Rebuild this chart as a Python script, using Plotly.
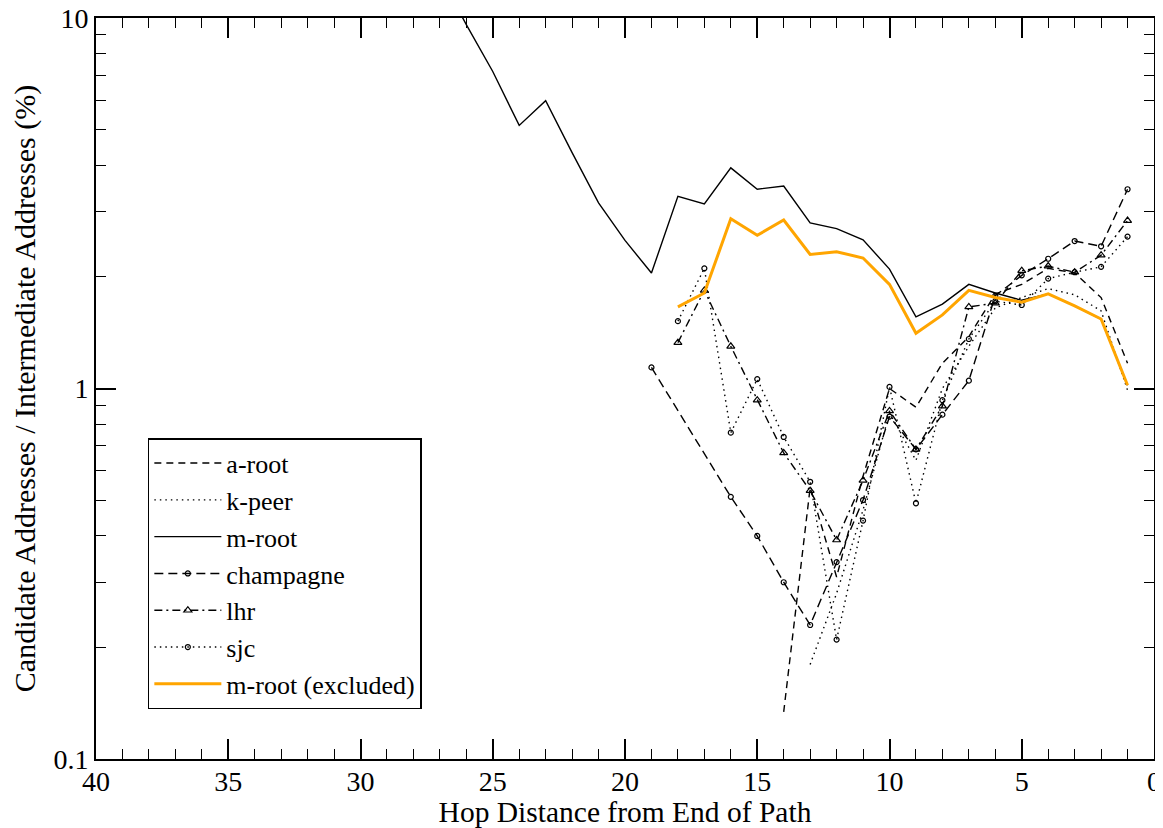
import plotly.graph_objects as go

# ---- data ----
mroot_x = [27, 26, 25, 24, 23, 22, 21, 20, 19, 18, 17, 16, 15, 14, 13, 12, 11, 10, 9, 8, 7, 6, 5, 4, 3, 2, 1]
mroot_y = [13.0, 9.6, 7.17, 5.13, 5.98, 4.33, 3.17, 2.51, 2.05, 3.30, 3.15, 3.94, 3.45, 3.52, 2.80, 2.70, 2.52,
           2.10, 1.56, 1.69, 1.91, 1.81, 1.73, 1.80, 1.67, 1.54, 1.02]

mrootx_x = [18, 17, 16, 15, 14, 13, 12, 11, 10, 9, 8, 7, 6, 5, 4, 3, 2, 1]
mrootx_y = [1.66, 1.81, 2.87, 2.59, 2.85, 2.30, 2.34, 2.25, 1.91, 1.41, 1.58, 1.84, 1.76, 1.71, 1.80, 1.67, 1.54, 1.02]

aroot_x = [14, 13, 12, 11, 10, 9, 8, 7, 6, 5, 4, 3, 2, 1]
aroot_y = [0.134, 0.54, 0.31, 0.58, 1.0, 0.89, 1.17, 1.38, 1.80, 1.91, 2.11, 2.05, 1.76, 1.17]

kpeer_x = [13, 12, 11, 10, 9, 8, 7, 6, 5, 4, 3, 2, 1]
kpeer_y = [0.18, 0.28, 0.47, 0.86, 0.64, 1.0, 1.30, 1.65, 1.76, 1.86, 1.79, 1.62, 0.99]

champ_x = [19, 16, 15, 14, 13, 12, 11, 10, 9, 8, 7, 6, 5, 4, 3, 2, 1]
champ_y = [1.14, 0.51, 0.40, 0.30, 0.23, 0.34, 0.50, 0.84, 0.685, 0.85, 1.05, 1.78, 2.02, 2.24, 2.50, 2.42, 3.45]

lhr_x = [18, 17, 16, 15, 14, 13, 12, 11, 10, 9, 8, 7, 6, 5, 4, 3, 2, 1]
lhr_y = [1.33, 1.84, 1.30, 0.93, 0.67, 0.53, 0.39, 0.565, 0.87, 0.685, 0.896, 1.66, 1.70, 2.08, 2.14, 2.06, 2.29, 2.84]

sjc_x = [18, 17, 16, 15, 14, 13, 12, 11, 10, 9, 8, 7, 6, 5, 4, 3, 2, 1]
sjc_y = [1.52, 2.11, 0.76, 1.06, 0.74, 0.56, 0.21, 0.44, 1.01, 0.49, 0.93, 1.36, 1.72, 1.68, 1.98, 2.06, 2.13, 2.57]

x_ticks = [40, 35, 30, 25, 20, 15, 10, 5, 0]
y_ticks = [0.1, 1, 10]
y_tick_text = ["0.1", "1", "10"]

FONT = "Liberation Serif"
BLACK = "black"
ORANGE = "#FFA500"

fig = go.Figure()

def add(name, xs, ys, dash, width=1.4, color=BLACK, symbol=None, msize=5):
    kw = {}
    if symbol:
        mode = "lines+markers"
        kw["marker"] = dict(symbol=symbol, size=msize, color=color,
                            line=dict(width=1.2, color=color))
    else:
        mode = "lines"
    fig.add_trace(go.Scatter(x=xs, y=ys, mode=mode, name=name,
                             line=dict(color=color, width=width, dash=dash), **kw))

add("a-root", aroot_x, aroot_y, "7px,5px")
add("k-peer", kpeer_x, kpeer_y, "1.5px,4px")
add("m-root", mroot_x, mroot_y, "solid")
add("champagne", champ_x, champ_y, "9px,5px", symbol="circle-open", msize=5)
add("lhr", lhr_x, lhr_y, "8px,4px,2px,4px", symbol="triangle-up-open", msize=7)
add("sjc", sjc_x, sjc_y, "1.5px,4px", symbol="circle-open", msize=5)
add("m-root (excluded)", mrootx_x, mrootx_y, "solid", width=3, color=ORANGE)

minor_y = [v * m for v in (0.1, 1) for m in range(2, 10)]

fig.update_layout(
    width=1155, height=820,
    margin=dict(l=88, r=9, t=10, b=69),
    paper_bgcolor="white", plot_bgcolor="white",
    font=dict(family=FONT, size=28, color=BLACK),
    showlegend=True,
    legend=dict(
        x=0.049, y=0.433, xanchor="left", yanchor="top",
        bordercolor=BLACK, borderwidth=1.5, bgcolor="white",
        font=dict(family=FONT, size=26, color=BLACK),
        itemwidth=67,
    ),
    xaxis=dict(
        range=[40, 0], tickvals=x_ticks, ticktext=[str(v) for v in x_ticks],
        ticks="inside", ticklen=20, tickwidth=1.5, tickcolor=BLACK,
        showline=True, linecolor=BLACK, linewidth=2, mirror="ticks",
        showgrid=False, zeroline=False, automargin=False,
        ticklabeloverflow="allow", ticklabelstandoff=-4,
        tickfont=dict(family=FONT, size=28),
        minor=dict(ticks="inside", ticklen=10, tickwidth=1.3, tickcolor=BLACK, dtick=1, showgrid=False),
        title=dict(text="Hop Distance from End of Path", font=dict(family=FONT, size=29.5), standoff=0),
    ),
    yaxis=dict(
        type="log", range=[-1, 1], tickvals=y_ticks, ticktext=y_tick_text,
        ticks="inside", ticklen=20, tickwidth=1.5, tickcolor=BLACK,
        showline=True, linecolor=BLACK, linewidth=2, mirror="ticks",
        showgrid=False, zeroline=False, automargin=False,
        ticklabeloverflow="allow",
        tickfont=dict(family=FONT, size=28),
        minor=dict(ticks="inside", ticklen=10, tickwidth=1.3, tickcolor=BLACK, tickvals=minor_y, showgrid=False),
        title=dict(text="Candidate Addresses / Intermediate Addresses (%)", font=dict(family=FONT, size=30), standoff=18),
    ),
)

fig.write_html("out.html")
